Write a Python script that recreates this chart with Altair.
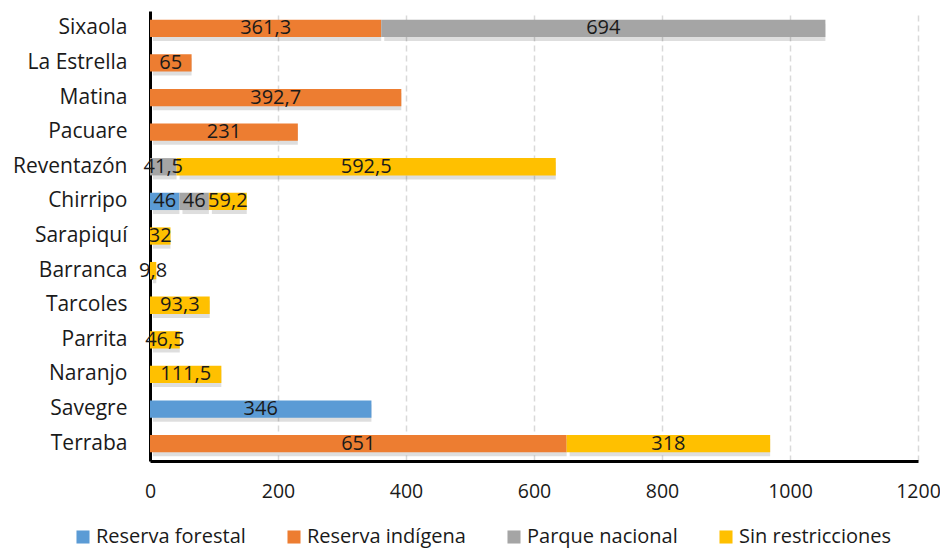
import altair as alt
import pandas as pd

rivers = ["Sixaola", "La Estrella", "Matina", "Pacuare", "Reventazón", "Chirripo",
          "Sarapiquí", "Barranca", "Tarcoles", "Parrita", "Naranjo", "Savegre", "Terraba"]
series = ["Reserva forestal", "Reserva indígena", "Parque nacional", "Sin restricciones"]
colors = ["#5B9BD5", "#ED7D31", "#A5A5A5", "#FFC000"]

reserva_forestal = [0, 0, 0, 0, 0, 46, 0, 0, 0, 0, 0, 346, 0]
reserva_indigena = [361.3, 65, 392.7, 231, 0, 0, 0, 0, 0, 0, 0, 0, 651]
parque_nacional = [694, 0, 0, 0, 41.5, 46, 0, 0, 0, 0, 0, 0, 0]
sin_restricciones = [0, 0, 0, 0, 592.5, 59.2, 32, 9.8, 93.3, 46.5, 111.5, 0, 318]

x_ticks = [0, 200, 400, 600, 800, 1000, 1200]

rows = []
for i, r in enumerate(rivers):
    start = 0.0
    for s, vals in zip(series, [reserva_forestal, reserva_indigena, parque_nacional, sin_restricciones]):
        v = vals[i]
        if v > 0:
            lab = ("%g" % v).replace(".", ",")
            rows.append({"rio": r, "serie": s, "start": start, "end": start + v,
                         "mid": start + v / 2, "label": lab, "orden": series.index(s)})
            start += v
df = pd.DataFrame(rows)

FONT = "Open Sans"
FS = 20

y_enc = alt.Y("rio:N", sort=rivers, title=None,
              scale=alt.Scale(paddingInner=0.5, paddingOuter=0.25),
              axis=alt.Axis(domain=True, domainColor="#000", domainWidth=3, ticks=False,
                            labelFont=FONT, labelFontSize=21, labelColor="#1a1a1a",
                            labelPadding=23, grid=False))
x_scale = alt.Scale(domain=[0, 1200], nice=False, zero=True)

shadow = alt.Chart(df).mark_bar(color="#000", opacity=0.13, xOffset=3, yOffset=4).encode(
    x=alt.X("start:Q", scale=x_scale), x2="end:Q", y=y_enc)

bars = alt.Chart(df).mark_bar().encode(
    x=alt.X("start:Q", scale=x_scale, title=None,
            axis=alt.Axis(values=x_ticks, format="d", labelFlush=False, domain=True,
                          domainColor="#000", domainWidth=3,
                          ticks=False, labelFont=FONT, labelFontSize=19.5, labelColor="#1a1a1a",
                          labelPadding=21, grid=True, gridColor="#d9d9d9", gridDash=[6, 4],
                          gridWidth=1.5)),
    x2="end:Q",
    y=y_enc,
    color=alt.Color("serie:N", scale=alt.Scale(domain=series, range=colors), title=None,
                    legend=alt.Legend(orient="none", legendX=-77, legendY=516, direction="horizontal",
                                      columns=4, columnPadding=38, symbolType="square",
                                      symbolSize=170, symbolStrokeWidth=0, labelFont=FONT,
                                      labelFontSize=FS, labelColor="#1a1a1a", labelOffset=3)),
    order="orden:Q",
)

text = alt.Chart(df).mark_text(font=FONT, fontSize=FS, color="#1a1a1a", baseline="middle").encode(
    x=alt.X("mid:Q", scale=x_scale), y=y_enc, text="label:N")

chart = (shadow + bars + text).properties(
    width=768, height=450,
    padding={"left": 142, "top": 3, "right": 22, "bottom": 90},
    autosize=alt.AutoSizeParams(type="none"),
).configure_view(stroke=None)

chart.save("out.html", embed_options={"renderer": "svg", "actions": False})
